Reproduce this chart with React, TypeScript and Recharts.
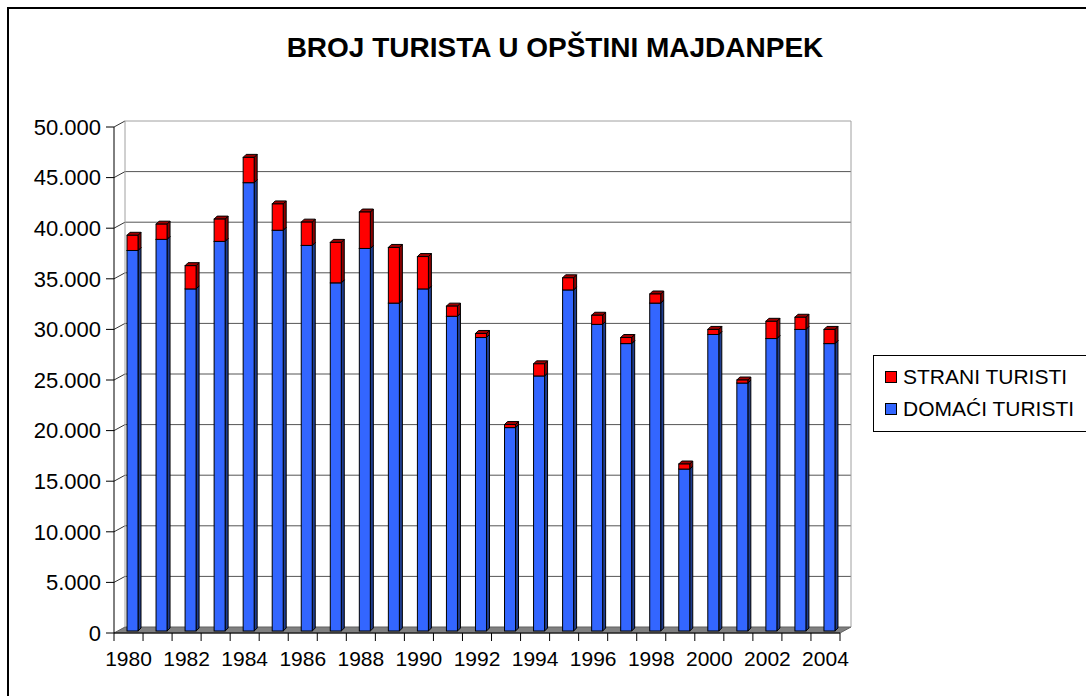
import React from 'react';
import { BarChart, Bar, XAxis, YAxis, CartesianGrid } from 'recharts';

const years = [
  '1980', '1981', '1982', '1983', '1984', '1985', '1986', '1987', '1988', '1989',
  '1990', '1991', '1992', '1993', '1994', '1995', '1996', '1997', '1998', '1999',
  '2000', '2001', '2002', '2003', '2004',
];
const domaci = [
  37600, 38700, 33800, 38500, 44300, 39600, 38100, 34400, 37800, 32400,
  33800, 31100, 29000, 20100, 25200, 33700, 30300, 28400, 32400, 16000,
  29300, 24500, 28900, 29800, 28400,
];
const strani = [
  1500, 1500, 2300, 2200, 2500, 2600, 2300, 4000, 3600, 5500,
  3200, 1000, 400, 300, 1200, 1200, 900, 600, 900, 500,
  500, 300, 1700, 1200, 1400,
];
const yTicks = [0, 5000, 10000, 15000, 20000, 25000, 30000, 35000, 40000, 45000, 50000];

// legend order as in the original (foreign first)
const series = [
  { key: 'strani', name: 'STRANI TURISTI', color: '#FF0000' },
  { key: 'domaci', name: 'DOMAĆI TURISTI', color: '#3366FF' },
];

const data = years.map((year, i) => ({ year, domaci: domaci[i], strani: strani[i] }));

const W = 1086;
const H = 696;
const Y_W = 100;
const X_H = 40;
const MARGIN = { top: 127, right: 246, bottom: 23, left: 14 };
const PLOT_LEFT = MARGIN.left + Y_W;
const PLOT_RIGHT = W - MARGIN.right;
const PLOT_BOTTOM = H - MARGIN.bottom - X_H;
const BAND = (PLOT_RIGHT - PLOT_LEFT) / years.length;
// back wall offset of the fake 3d box
const DX = 11;
const DY = 6;
const FONT = '"Liberation Sans", Arial, sans-serif';

const fmt = (v: number) => String(v).replace(/\B(?=(\d{3})+(?!\d))/g, '.');

const makeBar3D = (front: string, side: string, top: string) => (props: any) => {
  const { x, y, width, height } = props;
  if (!height || height <= 0) return <g />;
  const fx = x + 4;
  const fy = y - 2;
  const d = 3;
  return (
    <g stroke="#000" strokeWidth={1}>
      <path d={`M${fx + width},${fy} l${d},${-d} v${height} l${-d},${d} z`} fill={side} />
      <path d={`M${fx},${fy} l${d},${-d} h${width} l${-d},${d} z`} fill={top} />
      <rect x={fx} y={fy} width={width} height={height} fill={front} />
    </g>
  );
};

const HLine = (props: any) => {
  const { x1, y1, x2, index } = props;
  if (Math.abs(y1 - PLOT_BOTTOM) < 1) {
    return (
      <g key={`h-${index}`}>
        <path
          d={`M${x1},${y1} L${x2},${y1} L${x2 + DX},${y1 - DY} L${x1 + DX},${y1 - DY} z`}
          fill="#808080"
          stroke="#606060"
        />
      </g>
    );
  }
  const isTop = Math.abs(y1 - MARGIN.top) < 1;
  return (
    <g key={`h-${index}`}>
      <line x1={x1} y1={y1} x2={x1 + DX} y2={y1 - DY} stroke="#333" />
      <line x1={x1 + DX} y1={y1 - DY} x2={x2 + DX} y2={y1 - DY} stroke={isTop ? '#a0a0a0' : '#555'} />
    </g>
  );
};

const VLine = (props: any) => {
  const { x1, y1, y2, index } = props;
  return (
    <line key={`v-${index}`} x1={x1 + DX} y1={y1 - DY} x2={x1 + DX} y2={y2 - DY} stroke="#a0a0a0" />
  );
};

const YearTick = (props: any) => {
  const { x, payload, index } = props;
  const left = x - BAND / 2;
  return (
    <g>
      <line x1={left} y1={PLOT_BOTTOM} x2={left} y2={PLOT_BOTTOM + 8} stroke="#000" />
      {index === years.length - 1 && (
        <line x1={x + BAND / 2} y1={PLOT_BOTTOM} x2={x + BAND / 2} y2={PLOT_BOTTOM + 8} stroke="#000" />
      )}
      {index % 2 === 0 && (
        <text x={x} y={PLOT_BOTTOM + 33} textAnchor="middle" fontSize={21} fontFamily={FONT} fill="#000">
          {payload.value}
        </text>
      )}
    </g>
  );
};

export default function App() {
  return (
    <div style={{ position: 'absolute', left: 0, top: 0, width: W, height: H, overflow: 'hidden', background: '#fff' }}>
      <div
        style={{
          position: 'absolute',
          left: 7,
          top: 7,
          width: 1200,
          height: 800,
          borderLeft: '2px solid #000',
          borderTop: '2px solid #000',
        }}
      />
      <div
        style={{
          position: 'absolute',
          left: 0,
          top: 32,
          width: 1110,
          textAlign: 'center',
          fontFamily: FONT,
          fontWeight: 'bold',
          fontSize: 28,
          lineHeight: '32px',
        }}
      >
        BROJ TURISTA U OPŠTINI MAJDANPEK
      </div>
      <div style={{ position: 'absolute', left: 0, top: 0 }}>
        <BarChart width={W} height={H} data={data} margin={MARGIN} barSize={11}>
          <CartesianGrid
            horizontal={HLine}
            vertical={VLine}
            verticalCoordinatesGenerator={() => [PLOT_LEFT, PLOT_RIGHT]}
          />
          <XAxis
            dataKey="year"
            interval={0}
            height={X_H}
            tickLine={false}
            axisLine={{ stroke: '#000' }}
            tick={<YearTick />}
          />
          <YAxis
            width={Y_W}
            domain={[0, 50000]}
            ticks={yTicks}
            tickFormatter={fmt}
            tickSize={8}
            tickMargin={5}
            axisLine={{ stroke: '#000' }}
            tickLine={{ stroke: '#000' }}
            tick={{ fill: '#000', fontSize: 22, fontFamily: FONT }}
          />
          <Bar
            dataKey="domaci"
            name="DOMAĆI TURISTI"
            stackId="a"
            fill="#3366FF"
            shape={makeBar3D('#3366FF', '#1F3D8F', '#2E55D6')}
            isAnimationActive={false}
          />
          <Bar
            dataKey="strani"
            name="STRANI TURISTI"
            stackId="a"
            fill="#FF0000"
            shape={makeBar3D('#FF0000', '#8A0000', '#A00000')}
            isAnimationActive={false}
          />
        </BarChart>
      </div>
      <div
        style={{
          position: 'absolute',
          left: 873,
          top: 355,
          width: 240,
          border: '1px solid #000',
          padding: '5px 0 6px 11px',
          fontFamily: FONT,
          fontSize: 21,
          background: '#fff',
        }}
      >
        {series.map((s) => (
          <div key={s.key} style={{ display: 'flex', alignItems: 'center', height: 32 }}>
            <span
              style={{
                display: 'inline-block',
                width: 10,
                height: 10,
                background: s.color,
                border: '1px solid #000',
                marginRight: 6,
              }}
            />
            {s.name}
          </div>
        ))}
      </div>
    </div>
  );
}
